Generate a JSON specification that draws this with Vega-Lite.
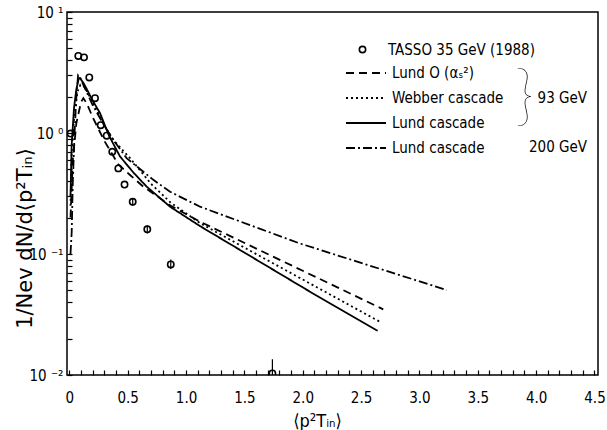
{
  "$schema": "https://vega.github.io/schema/vega-lite/v6.json",
  "width": 531,
  "height": 363,
  "autosize": {"type": "none"},
  "padding": {"left": 67, "top": 12, "right": 9, "bottom": 55},
  "background": "white",
  "config": {
    "view": {"stroke": "black", "strokeWidth": 1.5},
    "font": "DejaVu Sans Condensed, sans-serif",
    "axis": {"domain": false, "tickColor": "black", "labelColor": "black", "titleColor": "black", "grid": false, "tickWidth": 1.2, "labelOverlap": false, "labelFlush": false, "labelFont": "DejaVu Sans Condensed, sans-serif", "titleFont": "DejaVu Sans Condensed, sans-serif", "titleFontWeight": "normal"},
    "legend": {"labelFont": "DejaVu Sans Condensed, sans-serif", "labelColor": "black", "labelFontSize": 15, "padding": 0}
  },
  "datasets": {
    "models": [
      {"model": "Lund93", "x": 0.01, "y": 0.3},
      {"model": "Lund93", "x": 0.02, "y": 0.8},
      {"model": "Lund93", "x": 0.04, "y": 1.6},
      {"model": "Lund93", "x": 0.06, "y": 2.3},
      {"model": "Lund93", "x": 0.08, "y": 2.8},
      {"model": "Lund93", "x": 0.09, "y": 2.85},
      {"model": "Lund93", "x": 0.12, "y": 2.6},
      {"model": "Lund93", "x": 0.15, "y": 2.3},
      {"model": "Lund93", "x": 0.2, "y": 1.85},
      {"model": "Lund93", "x": 0.263, "y": 1.46},
      {"model": "Lund93", "x": 0.34, "y": 0.95},
      {"model": "Lund93", "x": 0.434, "y": 0.64},
      {"model": "Lund93", "x": 0.55, "y": 0.47},
      {"model": "Lund93", "x": 0.663, "y": 0.36},
      {"model": "Lund93", "x": 0.863, "y": 0.246},
      {"model": "Lund93", "x": 1.12, "y": 0.17},
      {"model": "Lund93", "x": 2.062, "y": 0.0488},
      {"model": "Lund93", "x": 2.642, "y": 0.0232},
      {"model": "Webber", "x": 0.01, "y": 0.25},
      {"model": "Webber", "x": 0.02, "y": 0.7},
      {"model": "Webber", "x": 0.04, "y": 1.3},
      {"model": "Webber", "x": 0.07, "y": 2.2},
      {"model": "Webber", "x": 0.095, "y": 2.5},
      {"model": "Webber", "x": 0.13, "y": 2.4},
      {"model": "Webber", "x": 0.2, "y": 1.8},
      {"model": "Webber", "x": 0.3, "y": 1.15},
      {"model": "Webber", "x": 0.38, "y": 0.87},
      {"model": "Webber", "x": 0.52, "y": 0.62},
      {"model": "Webber", "x": 0.7, "y": 0.38},
      {"model": "Webber", "x": 0.87, "y": 0.265},
      {"model": "Webber", "x": 1.12, "y": 0.18},
      {"model": "Webber", "x": 1.5, "y": 0.113},
      {"model": "Webber", "x": 2.677, "y": 0.027},
      {"model": "LundO", "x": 0.01, "y": 0.2},
      {"model": "LundO", "x": 0.03, "y": 0.6},
      {"model": "LundO", "x": 0.06, "y": 1.2},
      {"model": "LundO", "x": 0.1, "y": 1.8},
      {"model": "LundO", "x": 0.12, "y": 1.94},
      {"model": "LundO", "x": 0.149, "y": 1.76},
      {"model": "LundO", "x": 0.2, "y": 1.35},
      {"model": "LundO", "x": 0.3, "y": 0.86},
      {"model": "LundO", "x": 0.42, "y": 0.55},
      {"model": "LundO", "x": 0.52, "y": 0.45},
      {"model": "LundO", "x": 0.634, "y": 0.36},
      {"model": "LundO", "x": 0.87, "y": 0.25},
      {"model": "LundO", "x": 1.12, "y": 0.185},
      {"model": "LundO", "x": 2.69, "y": 0.0349},
      {"model": "Lund200", "x": 0.01, "y": 0.1},
      {"model": "Lund200", "x": 0.02, "y": 0.15},
      {"model": "Lund200", "x": 0.03, "y": 0.4},
      {"model": "Lund200", "x": 0.045, "y": 1.0},
      {"model": "Lund200", "x": 0.06, "y": 2.0},
      {"model": "Lund200", "x": 0.075, "y": 3.0},
      {"model": "Lund200", "x": 0.09, "y": 2.9},
      {"model": "Lund200", "x": 0.12, "y": 2.5},
      {"model": "Lund200", "x": 0.2, "y": 1.7},
      {"model": "Lund200", "x": 0.3, "y": 1.15},
      {"model": "Lund200", "x": 0.377, "y": 0.875},
      {"model": "Lund200", "x": 0.491, "y": 0.62},
      {"model": "Lund200", "x": 0.72, "y": 0.41},
      {"model": "Lund200", "x": 0.863, "y": 0.327},
      {"model": "Lund200", "x": 1.12, "y": 0.246},
      {"model": "Lund200", "x": 1.977, "y": 0.122},
      {"model": "Lund200", "x": 3.234, "y": 0.0504}
    ],
    "tasso": [
      {"src": "TASSO 35 GeV (1988)", "x": 0.01, "y": 0.99},
      {"src": "TASSO 35 GeV (1988)", "x": 0.077, "y": 4.33},
      {"src": "TASSO 35 GeV (1988)", "x": 0.126, "y": 4.22},
      {"src": "TASSO 35 GeV (1988)", "x": 0.171, "y": 2.88},
      {"src": "TASSO 35 GeV (1988)", "x": 0.22, "y": 1.94},
      {"src": "TASSO 35 GeV (1988)", "x": 0.269, "y": 1.16},
      {"src": "TASSO 35 GeV (1988)", "x": 0.32, "y": 0.95},
      {"src": "TASSO 35 GeV (1988)", "x": 0.368, "y": 0.7},
      {"src": "TASSO 35 GeV (1988)", "x": 0.42, "y": 0.51},
      {"src": "TASSO 35 GeV (1988)", "x": 0.473, "y": 0.375},
      {"src": "TASSO 35 GeV (1988)", "x": 0.543, "y": 0.27},
      {"src": "TASSO 35 GeV (1988)", "x": 0.668, "y": 0.16},
      {"src": "TASSO 35 GeV (1988)", "x": 0.869, "y": 0.082},
      {"src": "TASSO 35 GeV (1988)", "x": 1.74, "y": 0.0103}
    ],
    "errs": [
      {"x": 0.543, "lo": 0.25, "hi": 0.29},
      {"x": 0.668, "lo": 0.148, "hi": 0.173},
      {"x": 0.869, "lo": 0.075, "hi": 0.09},
      {"x": 1.74, "lo": 0.0085, "hi": 0.0135}
    ],
    "notes": [
      {"x": 4.436, "y": 1.945, "t": "93 GeV"},
      {"x": 4.436, "y": 0.771, "t": "200 GeV"}
    ],
    "brace": [
      {"x": 3.9, "y": 1.96, "t": "}"}
    ]
  },
  "encoding": {
    "x": {
      "field": "x", "type": "quantitative",
      "scale": {"domain": [-0.02, 4.53], "nice": false, "zero": false},
      "axis": {
        "values": [0,0.1,0.2,0.3,0.4,0.5,0.6,0.7,0.8,0.9,1,1.1,1.2,1.3,1.4,1.5,1.6,1.7,1.8,1.9,2,2.1,2.2,2.3,2.4,2.5,2.6,2.7,2.8,2.9,3,3.1,3.2,3.3,3.4,3.5,3.6,3.7,3.8,3.9,4,4.1,4.2,4.3,4.4,4.5],
        "labelExpr": "indexof(['0.0','0.5','1.0','1.5','2.0','2.5','3.0','3.5','4.0','4.5'], format(datum.value, '.1f')) >= 0 ? (datum.value < 0.05 ? '0' : format(datum.value, '.1f')) : ''",
        "labelOverlap": false,
        "tickSize": -5,
        "labelPadding": 20,
        "labelFontSize": 15,
        "title": "⟨p²Tᵢₙ⟩",
        "titleFontSize": 18,
        "titlePadding": 7,
        "titleX": 250,
        "titleAlign": "center"
      }
    },
    "y": {
      "field": "y", "type": "quantitative",
      "scale": {"type": "log", "domain": [0.01, 10], "nice": false},
      "axis": {
        "values": [0.01,0.02,0.03,0.04,0.05,0.06,0.07,0.08,0.09,0.1,0.2,0.3,0.4,0.5,0.6,0.7,0.8,0.9,1,2,3,4,5,6,7,8,9,10],
        "labelExpr": "datum.value==10 ? '10 ¹' : datum.value==1 ? '10 ⁰' : datum.value==0.1 ? '10 ⁻¹' : datum.value==0.01 ? '10 ⁻²' : ''",
        "labelOverlap": false,
        "tickSize": -5,
        "labelPadding": 9,
        "labelFontSize": 15,
        "title": "1/Nev dN/d⟨p²Tᵢₙ⟩",
        "titleFontSize": 21,
        "titleFont": "DejaVu Sans, sans-serif",
        "titleX": -42,
        "titleY": 226,
        "titleAngle": -90,
        "titleAlign": "center",
        "titleBaseline": "middle"
      }
    }
  },
  "layer": [
    {
      "data": {"name": "models"},
      "mark": {"type": "line", "stroke": "black", "strokeWidth": 1.8, "clip": true},
      "encoding": {
        "strokeDash": {
          "field": "model", "type": "nominal",
          "scale": {"domain": ["LundO", "Webber", "Lund93", "Lund200"], "range": [[8, 5], [2, 3], [1, 0], [9, 3, 2, 3]]},
          "legend": {
            "title": null,
            "orient": "none",
            "legendX": 288,
            "legendY": 50,
            "symbolType": "M-2,0H2",
            "symbolSize": 400,
            "symbolStrokeWidth": 1.8,
            "symbolStrokeColor": "black",
            "labelOffset": 15,
            "rowPadding": 6,
            "labelLimit": 300,
            "labelExpr": "datum.label=='LundO' ? 'Lund O (αₛ²)' : datum.label=='Webber' ? 'Webber cascade' : 'Lund cascade'"
          }
        }
      }
    },
    {
      "data": {"name": "errs"},
      "mark": {"type": "rule", "stroke": "black", "strokeWidth": 1.2, "clip": true},
      "encoding": {
        "y": {
          "field": "lo", "type": "quantitative",
          "axis": {
            "values": [0.01,0.02,0.03,0.04,0.05,0.06,0.07,0.08,0.09,0.1,0.2,0.3,0.4,0.5,0.6,0.7,0.8,0.9,1,2,3,4,5,6,7,8,9,10],
            "labelExpr": "datum.value==10 ? '10 ¹' : datum.value==1 ? '10 ⁰' : datum.value==0.1 ? '10 ⁻¹' : datum.value==0.01 ? '10 ⁻²' : ''",
            "labelOverlap": false,
            "tickSize": -5,
            "labelPadding": 9,
            "labelFontSize": 15,
            "title": "1/Nev dN/d⟨p²Tᵢₙ⟩",
            "titleFontSize": 21,
            "titleFont": "DejaVu Sans, sans-serif",
            "titleX": -42,
            "titleY": 226,
            "titleAngle": -90,
            "titleAlign": "center",
            "titleBaseline": "middle"
          }
        },
        "y2": {"field": "hi"}
      }
    },
    {
      "data": {"name": "tasso"},
      "mark": {"type": "point", "filled": false, "color": "black", "opacity": 1, "strokeWidth": 1.6, "size": 40, "clip": true},
      "encoding": {
        "shape": {
          "field": "src", "type": "nominal",
          "scale": {"range": ["circle"]},
          "legend": {
            "title": null,
            "orient": "none",
            "legendX": 288,
            "legendY": 30,
            "symbolStrokeColor": "black",
            "symbolStrokeWidth": 1.6,
            "symbolOpacity": 1,
            "symbolSize": 40,
            "labelOffset": 18,
            "labelLimit": 300
          }
        }
      }
    },
    {
      "data": {"name": "notes"},
      "mark": {"type": "text", "align": "right", "baseline": "middle", "fontSize": 15, "color": "black", "font": "DejaVu Sans Condensed, sans-serif"},
      "encoding": {
        "text": {"field": "t"}
      }
    },
    {
      "data": {"name": "brace"},
      "mark": {"type": "text", "align": "center", "baseline": "middle", "fontSize": 66, "fontWeight": 100, "color": "black", "font": "Lato, sans-serif"},
      "encoding": {
        "text": {"field": "t"}
      }
    }
  ]
}
